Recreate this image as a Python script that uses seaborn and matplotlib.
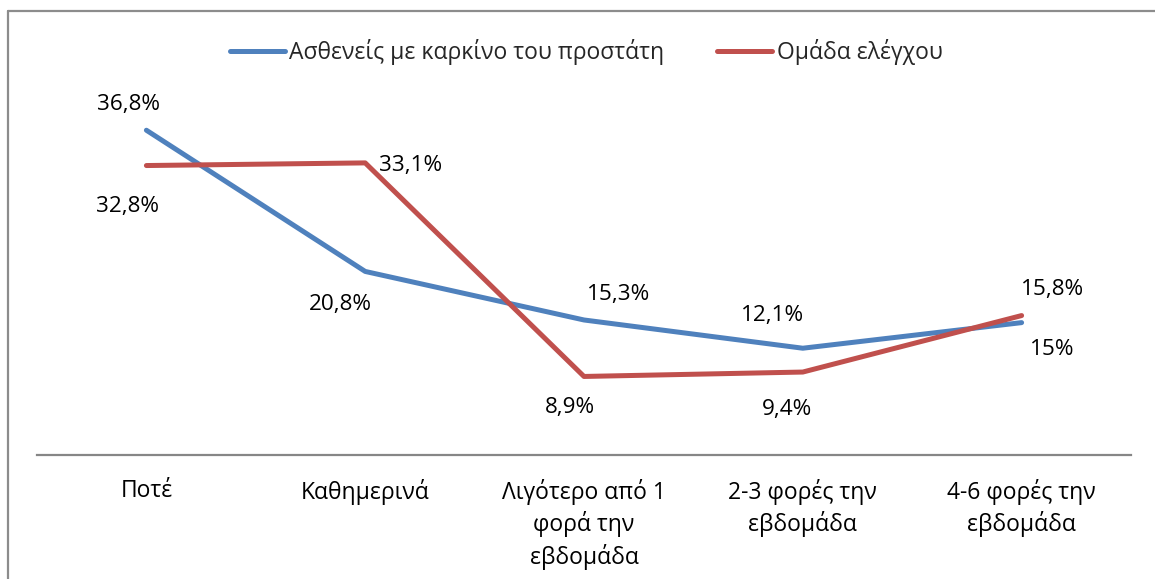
import matplotlib
matplotlib.use('Agg')
import matplotlib.pyplot as plt
from matplotlib.lines import Line2D
import seaborn as sns
import pandas as pd

categories = ['Ποτέ', 'Καθημερινά', 'Λιγότερο από 1\nφορά την\nεβδομάδα',
              '2-3 φορές την\nεβδομάδα', '4-6 φορές την\nεβδομάδα']
patients = [36.8, 20.8, 15.3, 12.1, 15.0]
controls = [32.8, 33.1, 8.9, 9.4, 15.8]
patients_labels = ['36,8%', '20,8%', '15,3%', '12,1%', '15%']
controls_labels = ['32,8%', '33,1%', '8,9%', '9,4%', '15,8%']
series_names = ['Ασθενείς με καρκίνο του προστάτη', 'Ομάδα ελέγχου']

# label offsets in pixels (dx right, dy down)
patients_off = [(-18, -26), (-25, 33), (35, -25), (-30, -33), (31, 27)]
controls_off = [(-19, 41), (45, 3), (-14, 31), (-16, 37), (31, -26)]

sns.set_theme(style='white')
plt.rcParams['font.family'] = ['Open Sans', 'DejaVu Sans']

df = pd.DataFrame({
    'cat': list(range(5)) * 2,
    'value': patients + controls,
    'series': [series_names[0]] * 5 + [series_names[1]] * 5,
})

fig = plt.figure(figsize=(11.55, 5.79), dpi=100, facecolor='white')
ax = fig.add_axes([37 / 1155, 124 / 579, 1094 / 1155, 353 / 579])

colors = {series_names[0]: '#4F81BD', series_names[1]: '#C0504D'}
sns.lineplot(data=df, x='cat', y='value', hue='series', palette=colors,
             linewidth=3.6, ax=ax, legend=False)

ax.set_xlim(-0.5, 4.5)
ax.set_ylim(0, 40)
ax.set_xticks(range(5))
ax.set_xticklabels(categories, fontsize=16.5, color='black', linespacing=1.33)
ax.tick_params(axis='x', length=0, pad=17)
ax.set_yticks([])
ax.set_xlabel('')
ax.set_ylabel('')
for s in ['top', 'right', 'left']:
    ax.spines[s].set_visible(False)
ax.spines['bottom'].set_color('#868686')
ax.spines['bottom'].set_linewidth(1.6)

for vals, labs, offs in [(patients, patients_labels, patients_off),
                         (controls, controls_labels, controls_off)]:
    for i, (v, t, (dx, dy)) in enumerate(zip(vals, labs, offs)):
        ax.annotate(t, (i, v), xytext=(dx * 0.72, -dy * 0.72),
                    textcoords='offset points', ha='center', va='center',
                    fontsize=16.2, color='black')

handles = [Line2D([], [], color=colors[n], linewidth=3.6, solid_capstyle='round')
           for n in series_names]
fig.legend(handles, series_names, loc='center', bbox_to_anchor=(586 / 1155, 1 - 52 / 579),
           ncol=2, frameon=False, fontsize=16.5, handlelength=2.4, handletextpad=0.2,
           columnspacing=2.3)

# outer chart border (top and left visible)
fig.add_artist(Line2D([8 / 1155, 1.01], [1 - 11 / 579, 1 - 11 / 579], color='#8c8c8c', linewidth=1.6))
fig.add_artist(Line2D([8 / 1155, 8 / 1155], [1 - 11 / 579, -0.01], color='#8c8c8c', linewidth=1.6))

fig.savefig('out.png', dpi=100, facecolor='white')
